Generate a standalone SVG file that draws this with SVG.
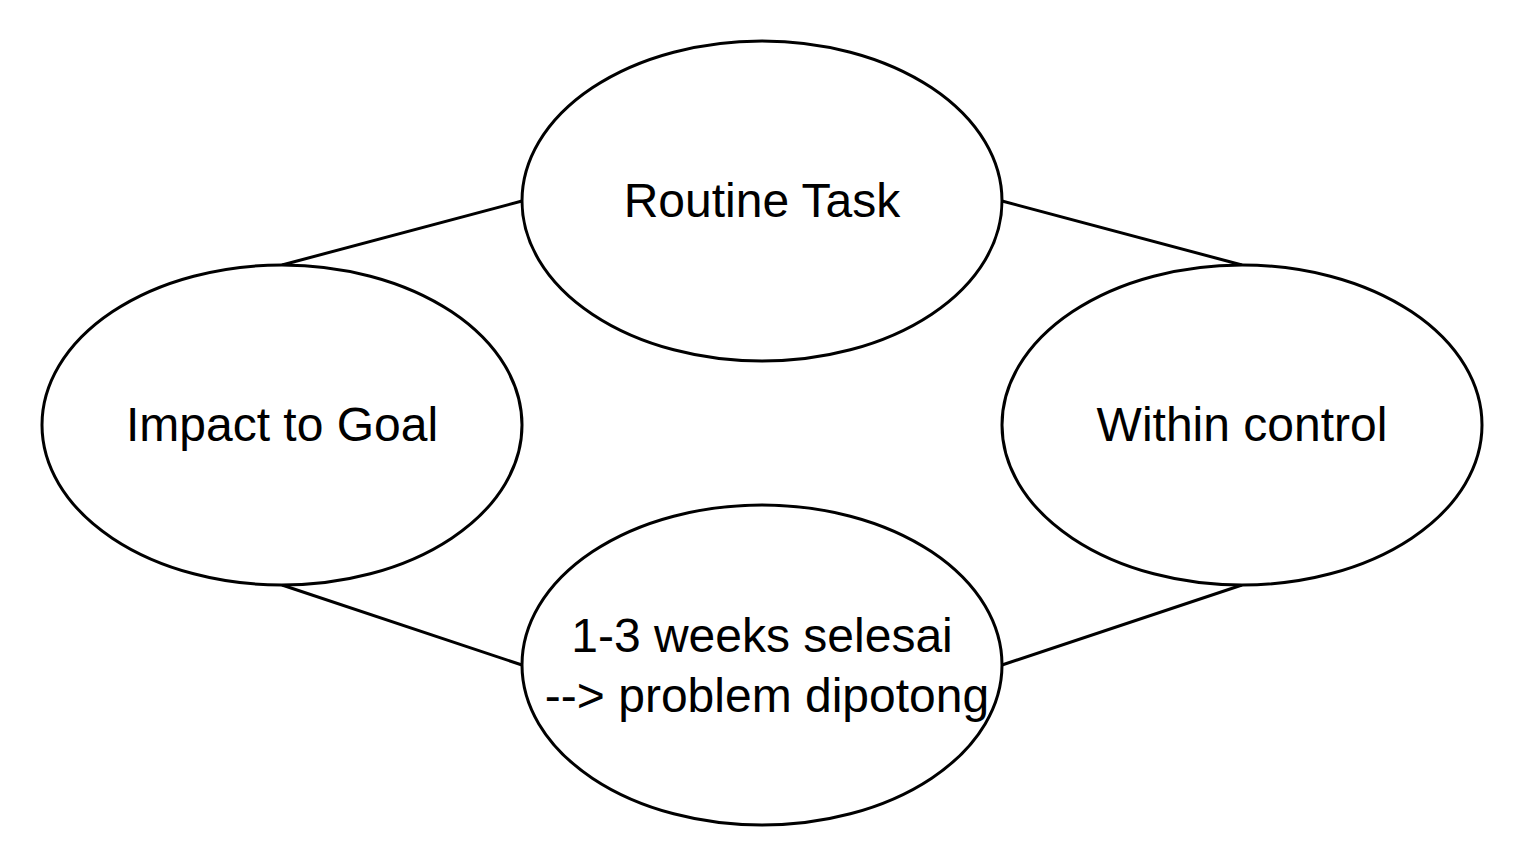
<svg xmlns="http://www.w3.org/2000/svg" width="1524" height="868" viewBox="0 0 1524 868">
<style>
.n{fill:#ffffff;stroke:#000000;stroke-width:3}
.t{font-family:"Liberation Sans",Arial,sans-serif;font-size:48px;fill:#000000;text-anchor:middle}
.e{stroke:#000000;stroke-width:3;fill:none}
</style>
<rect width="1524" height="868" fill="#ffffff"/>
<g id="connectors">
<line class="e" x1="282" y1="265" x2="522" y2="201"/>
<line class="e" x1="1002" y1="201" x2="1242" y2="265"/>
<line class="e" x1="282" y1="585" x2="522" y2="665"/>
<line class="e" x1="1002" y1="665" x2="1242" y2="585"/>
</g>
<g id="routine">
<ellipse class="n" cx="762" cy="201" rx="240" ry="160"/>
<text class="t" x="762" y="217">Routine Task</text>
</g>
<g id="impact">
<ellipse class="n" cx="282" cy="425" rx="240" ry="160"/>
<text class="t" x="282" y="441">Impact to Goal</text>
</g>
<g id="within">
<ellipse class="n" cx="1242" cy="425" rx="240" ry="160"/>
<text class="t" x="1242" y="441">Within control</text>
</g>
<g id="weeks">
<ellipse class="n" cx="762" cy="665" rx="240" ry="160"/>
<text class="t" x="762" y="652">1-3 weeks selesai</text>
<text class="t" x="767" y="712">--&gt; problem dipotong</text>
</g>
</svg>
